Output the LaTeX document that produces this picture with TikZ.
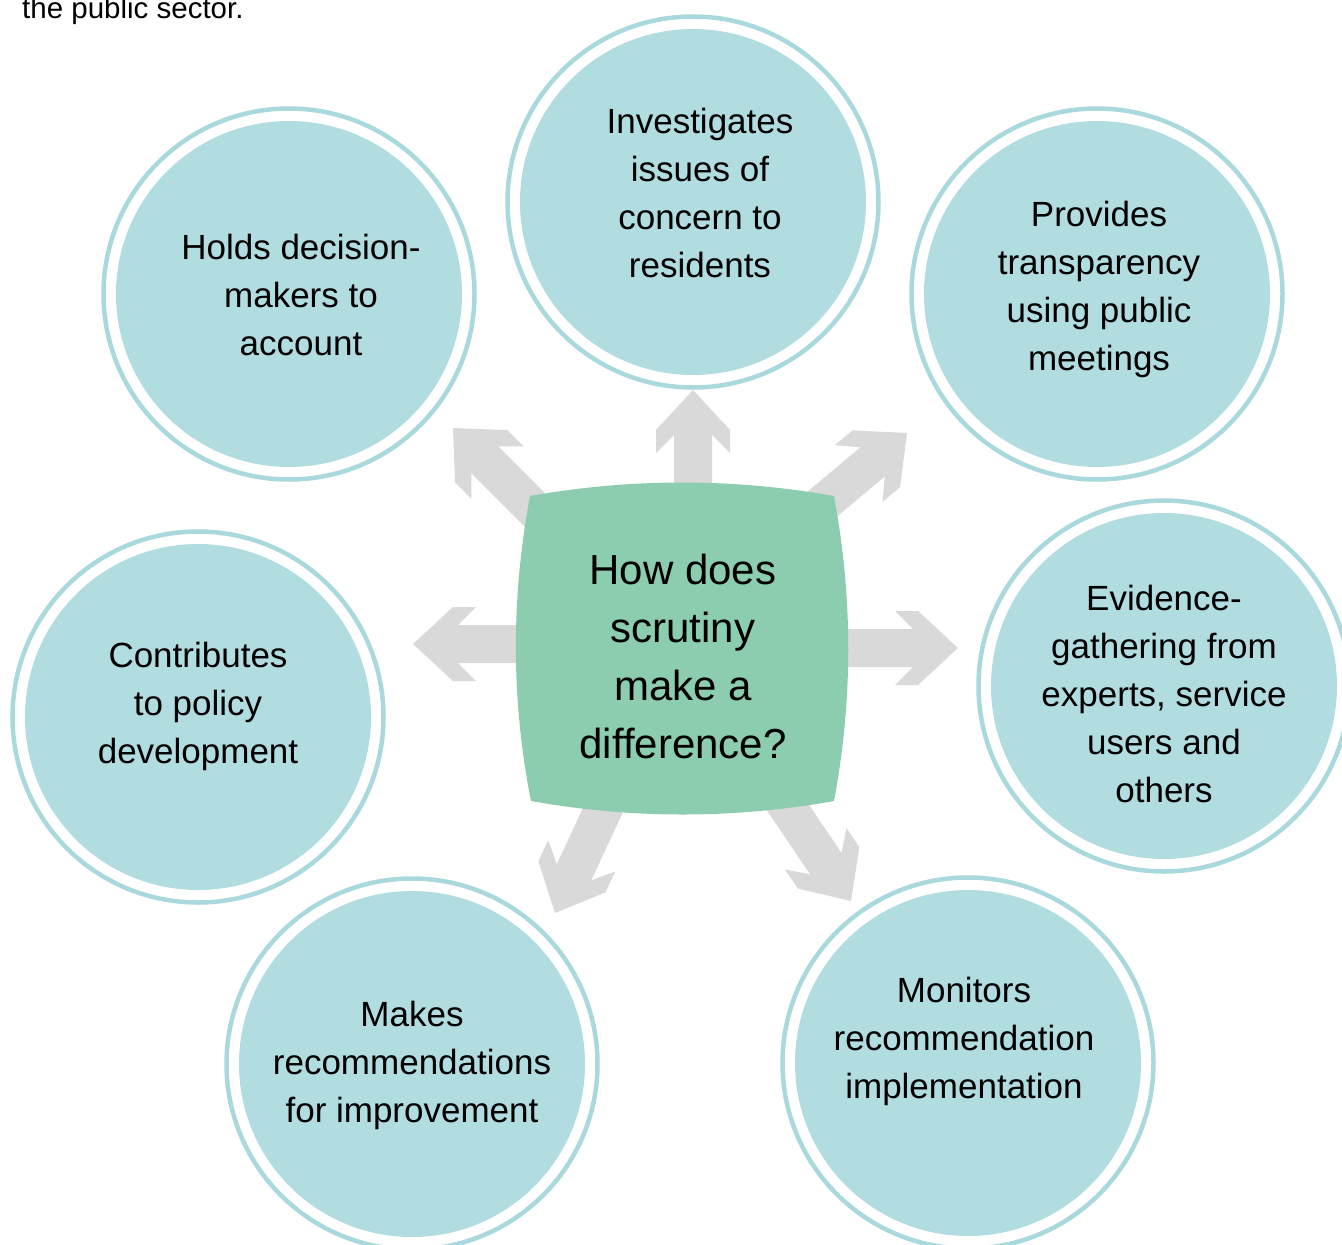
\documentclass[tikz,border=0pt]{standalone}
\usepackage{fontspec}
\setmainfont{Liberation Sans}
\definecolor{circfill}{HTML}{B1DDE0}
\definecolor{ringcol}{HTML}{AAD9DD}
\definecolor{centergreen}{HTML}{8CCDAF}
\definecolor{arrowgrey}{HTML}{D9D9D9}
\newcommand\blockarrow[3]{%
  \fill[arrowgrey,shift={(#1,#2)},rotate=#3]
    (0,0) -- (-40,37) -- (-63,37) -- (-45,19) -- (-300,19) -- (-300,-19)
    -- (-45,-19) -- (-63,-37) -- (-40,-37) -- cycle;}
\tikzset{
  bubble/.style={circle,fill=circfill,minimum size=346pt,inner sep=0pt},
  ringline/.style={draw=ringcol,line width=4.5pt},
  btext/.style={align=center,font=\fontsize{35}{48}\selectfont,inner sep=0pt},
  ctext/.style={align=center,font=\fontsize{42}{58}\selectfont,inner sep=0pt},
}
\begin{document}
\begin{tikzpicture}[x=1pt,y=-1pt]
\clip (0,0) rectangle (1342,1245);
\fill[white] (0,0) rectangle (1342,1245);

\node[anchor=base west,inner sep=0pt,font=\fontsize{29.5}{34}\selectfont] (intro) at (22,18) {the public sector.};

% circles
\foreach \n/\x/\y in {holds/289/294, invest/693/202, provides/1097/294, contrib/198/717, evid/1164/686, makes/412/1064, monitors/968/1063}{
  \node[bubble] (\n) at (\x,\y) {};
  \draw[ringline] (\n.center) circle (185.5);
}

\node[btext] (tholds) at (301,295) {Holds decision-\\makers to\\account};
\node[btext] (tinvest) at (700,193) {Investigates\\issues of\\concern to\\residents};
\node[btext] (tprov) at (1099,289) {Provides\\transparency\\using public\\meetings};
\node[btext] (tcontrib) at (198,706) {Contributes\\to policy\\development};
\node[btext] (tevid) at (1164,694) {Evidence-\\gathering from\\experts, service\\users and\\others};
\node[btext] (tmakes) at (412,1065) {Makes\\recommendations\\for improvement};
\node[btext] (tmon) at (964,1041) {Monitors\\recommendation\\implementation};

% arrows
\blockarrow{693}{390}{90}
\blockarrow{453}{428}{135}
\blockarrow{907}{433}{40}
\blockarrow{413}{644}{180}
\blockarrow{958}{648}{0}
\blockarrow{555}{913}{245}
\blockarrow{851}{901}{-56}

% centre shape
\fill[centergreen] (530,496) .. controls (631,478) and (733,478) .. (834,496)
  .. controls (853,598) and (853,700) .. (834,801)
  .. controls (733,819) and (632,819) .. (531,801)
  .. controls (511,700) and (511,598) .. cycle;
\node[ctext] (q) at (683,656) {How does\\scrutiny\\make a\\difference?};
\end{tikzpicture}
\end{document}
